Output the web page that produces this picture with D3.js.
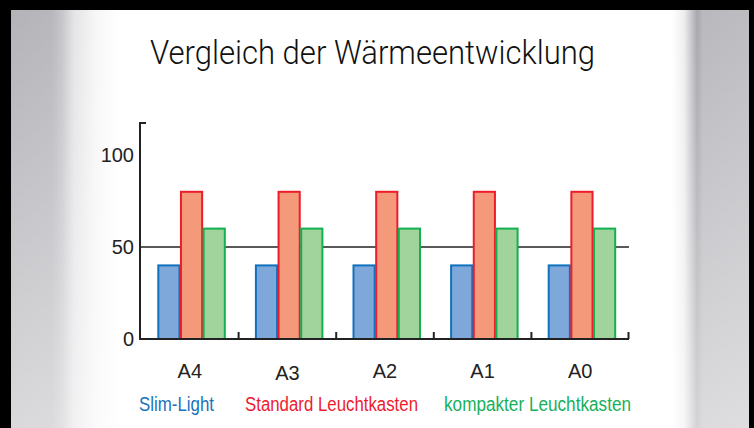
<!DOCTYPE html>
<html>
<head>
<meta charset="utf-8">
<script src="https://cdn.jsdelivr.net/npm/d3@7"></script>
<style>
    html, body { margin: 0; padding: 0; background: #000; }
    svg { display: block; }
</style>
</head>
<body>
<svg id="o-chart-0" width="754" height="428"></svg>
<script>
// chart data
let categories = ["A4", "A3", "A2", "A1", "A0"];
let seriesNames = ["Slim-Light", "Standard Leuchtkasten", "kompakter Leuchtkasten"];
let slimLight = [40, 40, 40, 40, 40];
let standardBox = [80, 80, 80, 80, 80];
let compactBox = [60, 60, 60, 60, 60];
let yTicks = [0, 50, 100];

let seriesColors = [
    { fill: "#7ea8d9", stroke: "#1072bd", text: "#1a72bb" },
    { fill: "#f49a7b", stroke: "#ed1c2a", text: "#ec1c2e" },
    { fill: "#a0d49c", stroke: "#13b04f", text: "#17b05a" }
];

let svg = d3.select("#o-chart-0");

// background: black frame, grey side panels, white sheet
let defs = svg.append("defs");
let hGrad = defs.append("linearGradient")
    .attr("id", "bg-h")
    .attr("gradientUnits", "userSpaceOnUse")
    .attr("x1", 0).attr("x2", 754).attr("y1", 0).attr("y2", 0);
[
    [11, "#b4b3b8"], [52, "#b8b7bc"], [62, "#c6c5ca"], [74, "#e4e4e6"],
    [95, "#f6f6f7"], [120, "#ffffff"], [672, "#ffffff"], [684, "#eeeef0"],
    [692, "#c4c3c8"], [697, "#a8a7ac"], [703, "#b9b8bd"], [749, "#bdbcc1"]
].forEach(function(s) {
    hGrad.append("stop").attr("offset", s[0] / 754).attr("stop-color", s[1]);
});
let vGrad = defs.append("linearGradient")
    .attr("id", "bg-v")
    .attr("x1", 0).attr("x2", 0).attr("y1", 0).attr("y2", 1);
vGrad.append("stop").attr("offset", 0).attr("stop-color", "#fff").attr("stop-opacity", 0);
vGrad.append("stop").attr("offset", 1).attr("stop-color", "#fff").attr("stop-opacity", 0.5);

svg.append("rect").attr("width", 754).attr("height", 428).attr("fill", "#000");
svg.append("rect").attr("x", 11).attr("y", 10).attr("width", 738).attr("height", 418)
    .attr("fill", "url(#bg-h)");
svg.append("rect").attr("x", 11).attr("y", 10).attr("width", 738).attr("height", 418)
    .attr("fill", "url(#bg-v)");

// title
svg.append("text")
    .attr("x", 150)
    .attr("y", 64)
    .attr("textLength", 445)
    .attr("lengthAdjust", "spacingAndGlyphs")
    .attr("fill", "#111")
    .style("font-family", "Roboto, 'Liberation Sans', sans-serif")
    .style("font-weight", 300)
    .style("font-size", "34px")
    .text("Vergleich der Wärmeentwicklung");

// scales
let axisLeftX = 140, axisRightX = 629, axisTop = 123;
let x0 = d3.scaleBand().domain(categories).range([141, 629]);
let x1 = d3.scaleBand().domain(seriesNames).range([0, 68]);
let y = d3.scaleLinear().domain([0, 100]).range([339, 155]);
let groupOffset = (x0.bandwidth() - 68) / 2 + 1.5;

let axisFont = "'Liberation Sans', Arial, sans-serif";

// grid line at 50 (behind bars)
svg.append("line")
    .attr("x1", axisLeftX).attr("x2", axisRightX)
    .attr("y1", y(50)).attr("y2", y(50))
    .attr("stroke", "#222").attr("stroke-width", 1.5);

// bars
let data = [slimLight, standardBox, compactBox];
let groups = svg.selectAll(".group")
    .data(categories)
    .enter().append("g")
    .attr("class", "group")
    .attr("transform", function(d) { return "translate(" + (x0(d) + groupOffset) + ",0)"; });

groups.selectAll("rect")
    .data(function(cat, ci) {
        return seriesNames.map(function(name, si) {
            return { name: name, si: si, value: data[si][ci] };
        });
    })
    .enter().append("rect")
    .attr("x", function(d) { return x1(d.name) + 1; })
    .attr("width", x1.bandwidth() - 1.5)
    .attr("y", function(d) { return y(d.value); })
    .attr("height", function(d) { return y(0) - y(d.value); })
    .attr("fill", function(d) { return seriesColors[d.si].fill; })
    .attr("stroke", function(d) { return seriesColors[d.si].stroke; })
    .attr("stroke-width", 2);

// y axis
let yAxis = svg.append("g")
    .attr("transform", "translate(" + axisLeftX + ",0)")
    .call(d3.axisLeft(y).tickValues(yTicks).tickSize(0).tickPadding(6));
yAxis.select(".domain").remove();
yAxis.selectAll("text")
    .attr("fill", "#222")
    .style("font-family", axisFont)
    .style("font-size", "20px");

svg.append("path")
    .attr("d", "M" + (axisLeftX + 6) + "," + axisTop + "H" + axisLeftX + "V" + y(0) + "H" + axisRightX)
    .attr("fill", "none")
    .attr("stroke", "#222")
    .attr("stroke-width", 2);

// category boundary ticks on the base line
svg.selectAll(".cat-tick")
    .data(categories)
    .enter().append("line")
    .attr("class", "cat-tick")
    .attr("x1", function(d) { return Math.min(x0(d) + x0.bandwidth(), axisRightX - 0.5); })
    .attr("x2", function(d) { return Math.min(x0(d) + x0.bandwidth(), axisRightX - 0.5); })
    .attr("y1", y(0) - 7).attr("y2", y(0))
    .attr("stroke", "#222").attr("stroke-width", 2);

// category labels
let xAxis = svg.append("g")
    .attr("transform", "translate(0," + y(0) + ")")
    .call(d3.axisBottom(x0).tickSize(0).tickPadding(25));
xAxis.select(".domain").remove();
xAxis.selectAll("text")
    .attr("fill", "#222")
    .attr("dy", function(d) { return d === "A3" ? "0.81em" : "0.71em"; })
    .style("font-family", axisFont)
    .style("font-size", "20px");

// legend
let legendX = [139, 245, 444];
let legendW = [75, 173, 187];
svg.selectAll(".legend")
    .data(seriesNames)
    .enter().append("text")
    .attr("class", "legend")
    .attr("x", function(d, i) { return legendX[i]; })
    .attr("y", 411)
    .attr("textLength", function(d, i) { return legendW[i]; })
    .attr("lengthAdjust", "spacingAndGlyphs")
    .attr("fill", function(d, i) { return seriesColors[i].text; })
    .style("font-family", "'Liberation Sans Narrow', 'Liberation Sans', sans-serif")
    .style("font-size", "20px")
    .text(function(d) { return d; });
</script>
</body>
</html>
